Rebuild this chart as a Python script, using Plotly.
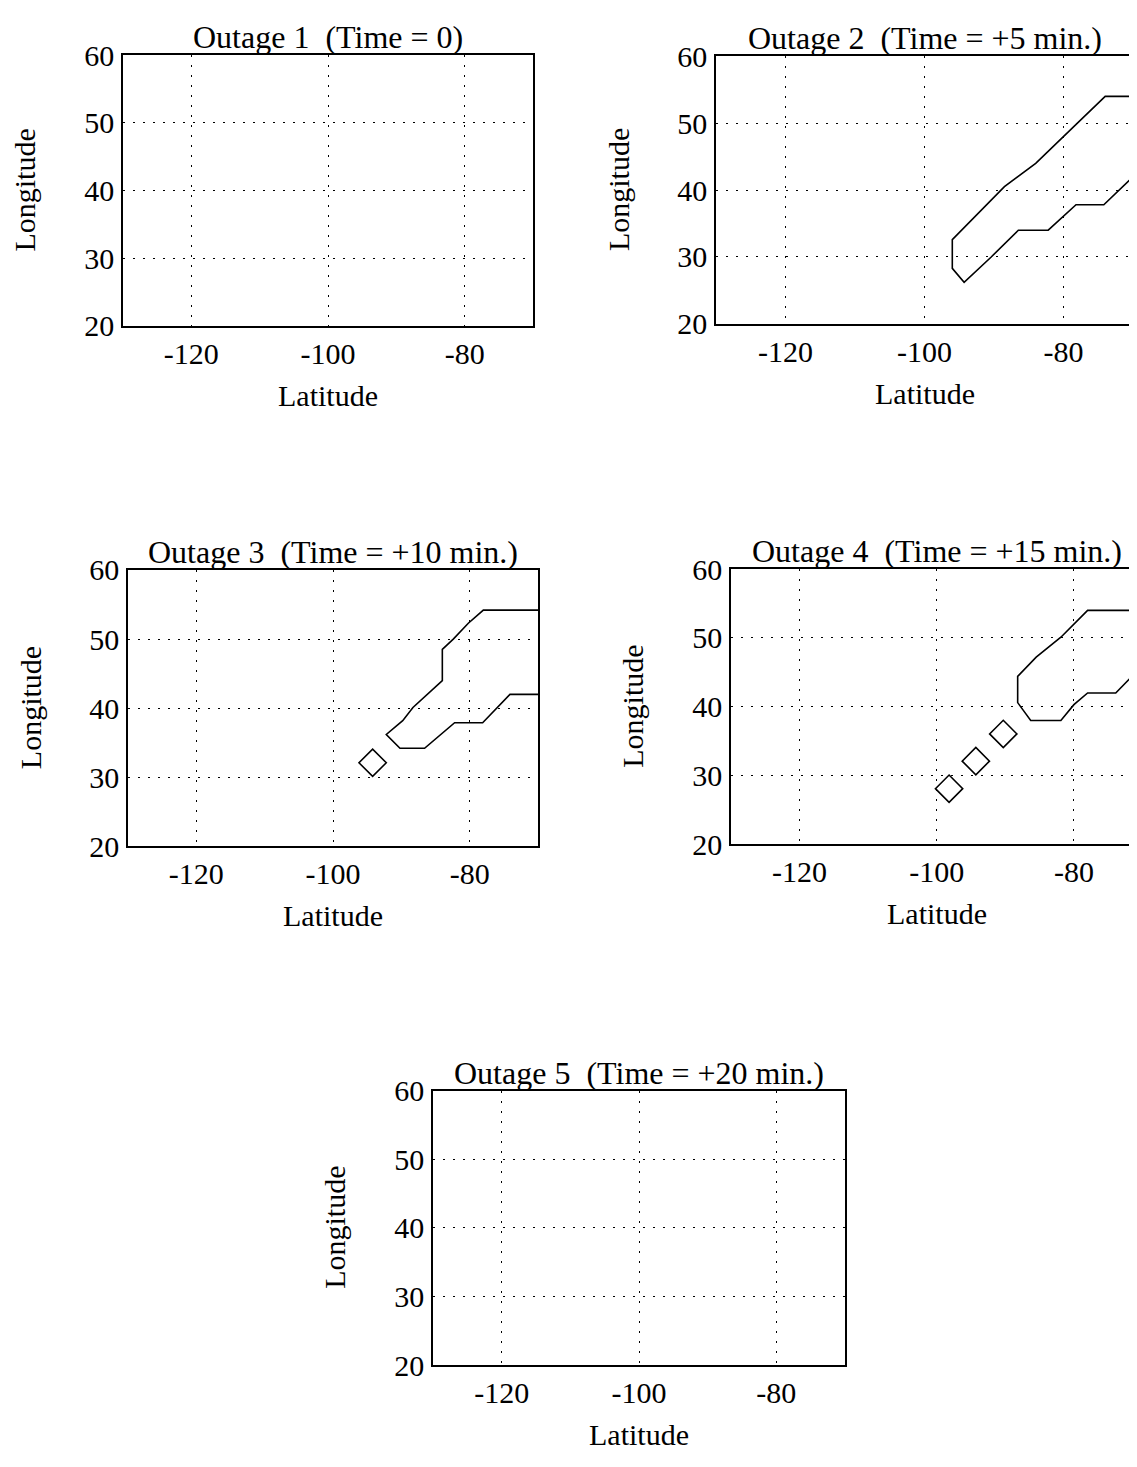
import plotly.graph_objects as go

# ---------------- data ----------------
X_TICKS = [-120, -100, -80]
Y_TICKS = [20, 30, 40, 50, 60]
X_RANGE = [-130, -70]
X_RANGE_P4 = [-130, -70.8]   # panel 4 is cut by the page edge
Y_RANGE = [20, 60]

TITLES = [
    "Outage 1\u00a0 (Time = 0)",
    "Outage 2\u00a0 (Time = +5 min.)",
    "Outage 3\u00a0 (Time = +10 min.)",
    "Outage 4\u00a0 (Time = +15 min.)",
    "Outage 5\u00a0 (Time = +20 min.)",
]
X_LABEL = "Latitude"
Y_LABEL = "Longitude"

# Outage 2 region contour
o2_lat = [-70, -74, -78, -84, -88.5, -96, -96, -94.3, -90.4, -86.5, -82.2, -78.2, -74.2, -70]
o2_lon = [54, 54, 50, 44, 40.5, 32.6, 28.3, 26.2, 30, 34, 34, 37.8, 37.8, 42]

# Outage 3 region contour and site markers
o3_lat = [-70, -78, -80.2, -82.4, -84, -84, -88.3, -89.8, -92.2, -90.2, -86.6, -82.2, -78.1, -74.1, -70]
o3_lon = [54.2, 54.2, 52.3, 50, 48.5, 44, 40.1, 38.2, 36.2, 34.2, 34.2, 37.9, 37.9, 42, 42]
o3_site_lat = [-94.2]
o3_site_lon = [32.1]

# Outage 4 region contour and site markers
o4_lat = [-70, -78, -81.9, -85.5, -88.2, -88.2, -86.3, -81.9, -80, -78, -73.9, -70]
o4_lon = [54, 54, 50.1, 47.2, 44.4, 40.6, 38, 38, 40.3, 42, 42, 46]
o4_site_lat = [-98.2, -94.3, -90.3]
o4_site_lon = [28.1, 32.1, 36.05]

# ---------------- layout helpers ----------------
PAGE_W, PAGE_H = 1137, 1467
OFF = 8                      # default body margin of the page
W, H = PAGE_W - OFF, PAGE_H - OFF
FONT = "Liberation Serif, Times New Roman, serif"
FS = 30
FS_TITLE = 32

def fx(px):
    return (px - OFF) / W

def fy(py):
    return 1 - (py - OFF) / H

# pixel boxes on the page (left, top, right, bottom)
BOXES = [
    (123, 39, 533, 316),
    (716, 40, 1133, 314),
    (128, 566, 538, 849),
    (731, 565, 1137, 847),
    (433, 1099, 845, 1380),
]
RANGES = [X_RANGE, X_RANGE, X_RANGE, X_RANGE_P4, X_RANGE]

fig = go.Figure()

line_style = dict(color="black", width=1.6)
marker_style = dict(symbol="diamond-open", size=21, color="black", line=dict(width=1.6, color="black"))

def ax(i):
    return ("x" if i == 0 else f"x{i+1}"), ("y" if i == 0 else f"y{i+1}")

# panel 2
xa, ya = ax(1)
fig.add_trace(go.Scatter(x=o2_lat, y=o2_lon, mode="lines", line=line_style, xaxis=xa, yaxis=ya))
# panel 3
xa, ya = ax(2)
fig.add_trace(go.Scatter(x=o3_lat, y=o3_lon, mode="lines", line=line_style, xaxis=xa, yaxis=ya))
fig.add_trace(go.Scatter(x=o3_site_lat, y=o3_site_lon, mode="markers", marker=marker_style, xaxis=xa, yaxis=ya))
# panel 4
xa, ya = ax(3)
fig.add_trace(go.Scatter(x=o4_lat, y=o4_lon, mode="lines", line=line_style, xaxis=xa, yaxis=ya))
fig.add_trace(go.Scatter(x=o4_site_lat, y=o4_site_lon, mode="markers", marker=marker_style, xaxis=xa, yaxis=ya))
# empty panels need a trace to show axes
for i in (0, 4):
    xa, ya = ax(i)
    fig.add_trace(go.Scatter(x=[None], y=[None], mode="lines", xaxis=xa, yaxis=ya))

annotations = []
layout = dict(
    width=W, height=H,
    margin=dict(l=0, r=0, t=0, b=0),
    paper_bgcolor="white", plot_bgcolor="white",
    showlegend=False,
    font=dict(family=FONT, size=FS, color="black"),
)

for i, (l, t, r, b) in enumerate(BOXES):
    suffix = "" if i == 0 else str(i + 1)
    xa_name, ya_name = ax(i)
    mirror_y = (i != 3)
    layout["xaxis" + suffix] = dict(
        domain=[fx(l), min(1.0, fx(r))], anchor=ya_name, range=RANGES[i],
        tickvals=X_TICKS, ticktext=[str(v) for v in X_TICKS],
        showgrid=True, gridcolor="black", griddash="2px,8px", gridwidth=1.4,
        zeroline=False, showline=True, mirror=True, linecolor="black", linewidth=1.6,
        ticks="", ticklabelstandoff=0,
        tickfont=dict(family=FONT, size=FS, color="black"), fixedrange=True,
    )
    layout["yaxis" + suffix] = dict(
        domain=[fy(b), fy(t)], anchor=xa_name, range=Y_RANGE,
        tickvals=Y_TICKS, ticktext=[str(v) for v in Y_TICKS],
        showgrid=True, gridcolor="black", griddash="2px,8px", gridwidth=1.4,
        zeroline=False, showline=True, mirror=mirror_y, linecolor="black", linewidth=1.6,
        ticks="", ticklabelstandoff=1,
        tickfont=dict(family=FONT, size=FS, color="black"), fixedrange=True,
    )
    cx = (l + r) / 2 if i != 3 else (l + 1143) / 2
    annotations.append(dict(text=TITLES[i], xref="paper", yref="paper", x=fx(cx), y=fy(t),
                            xanchor="center", yanchor="bottom", yshift=-2, showarrow=False,
                            font=dict(family=FONT, size=FS_TITLE, color="black")))
    annotations.append(dict(text=X_LABEL, xref="paper", yref="paper", x=fx(cx), y=fy(b + 71),
                            xanchor="center", yanchor="middle", showarrow=False,
                            font=dict(family=FONT, size=FS, color="black")))
    annotations.append(dict(text=Y_LABEL, xref="paper", yref="paper", x=fx(l - 98), y=fy((t + b) / 2),
                            xanchor="center", yanchor="middle", textangle=-90, showarrow=False,
                            font=dict(family=FONT, size=FS, color="black")))

layout["annotations"] = annotations
fig.update_layout(**layout)
fig.write_html("out.html")
